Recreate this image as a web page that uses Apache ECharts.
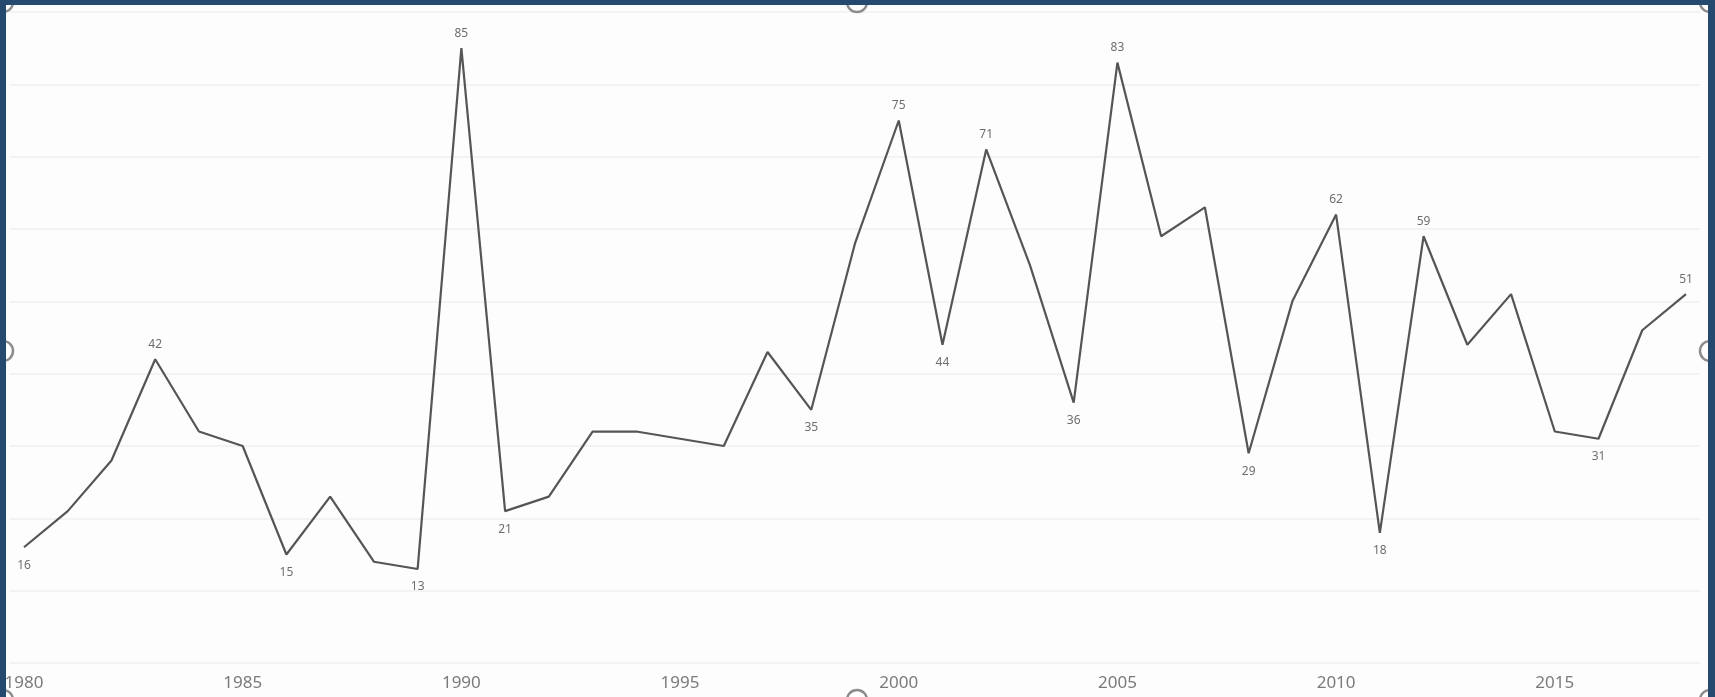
<!DOCTYPE html>
<html>
<head>
<meta charset="utf-8">
<script src="https://cdn.jsdelivr.net/npm/echarts@6/dist/echarts.min.js"></script>
<style>
  html, body { margin: 0; padding: 0; width: 1715px; height: 697px; overflow: hidden; background: #264a6f; }
  #chart { position: absolute; left: 6px; top: 5px; width: 1702px; height: 692px; background: #fdfdfd; }
</style>
</head>
<body>
<div id="chart"></div>
<script>
// Yearly values, 1980–2018
const years = [];
for (let y = 1980; y <= 2018; y++) years.push(String(y));

const values = [
  16, 21, 28, 42, 32, 30, 15, 23, 14, 13,   // 1980–1989
  85, 21, 23, 32, 32, 31, 30, 43, 35, 58,   // 1990–1999
  75, 44, 71, 55, 36, 83, 59, 63, 29, 50,   // 2000–2009
  62, 18, 59, 44, 51, 32, 31, 46, 51        // 2010–2018
];

// Years whose value is written next to the line
const labeledYears = [1980, 1983, 1986, 1989, 1990, 1991, 1998, 2000, 2001,
                      2002, 2004, 2005, 2008, 2010, 2011, 2012, 2016, 2018];

// y axis range and gridline step
const yMin = 0, yMax = 90, yStep = 10;

// Put a label above a local high and below a local low
function labelSide(i) {
  const v = values[i];
  const nb = [];
  if (i > 0) nb.push(values[i - 1]);
  if (i < values.length - 1) nb.push(values[i + 1]);
  const avg = nb.reduce((a, b) => a + b, 0) / nb.length;
  return v >= avg ? 'top' : 'bottom';
}

const seriesData = values.map((v, i) => {
  const shown = labeledYears.includes(Number(years[i]));
  const side = labelSide(i);
  return {
    value: v,
    label: { show: shown, position: side, distance: side === 'top' ? 9 : 12 }
  };
});

const chart = echarts.init(document.getElementById('chart'), null, { renderer: 'canvas' });

// Resize handles around the visual frame
const handleStyle = { fill: '#ffffff', stroke: '#8c8c8c', lineWidth: 2.5 };
const hx = [-3, 851, 1704], hy = [-3, 346, 695];
const handles = [];
hx.forEach((x, a) => hy.forEach((y, b) => {
  if (a === 1 && b === 1) return;
  handles.push({ type: 'circle', shape: { cx: x, cy: y, r: 10 }, style: handleStyle, z: 100 });
}));

chart.setOption({
  animation: false,
  textStyle: { fontFamily: 'Noto Sans' },
  grid: [
    { left: 18, right: 22, top: 7, bottom: 34, containLabel: false, outerBoundsMode: 'none' },
    { left: 4, right: 8, top: 7, bottom: 34, containLabel: false, outerBoundsMode: 'none' }
  ],
  xAxis: [
    {
      type: 'category', gridIndex: 0, data: years, boundaryGap: false,
      axisLine: { show: false }, axisTick: { show: false },
      axisLabel: { interval: 4, color: '#7a7a7a', fontSize: 17, margin: 12, fontFamily: 'Noto Sans' },
      splitLine: { show: false }
    },
    { type: 'value', gridIndex: 1, min: 0, max: 1, show: false }
  ],
  yAxis: [
    {
      type: 'value', gridIndex: 0, min: yMin, max: yMax, interval: yStep,
      axisLine: { show: false }, axisTick: { show: false }, axisLabel: { show: false },
      splitLine: { show: false }
    },
    {
      type: 'value', gridIndex: 1, min: yMin, max: yMax, interval: yStep,
      axisLine: { show: false }, axisTick: { show: false }, axisLabel: { show: false },
      splitLine: { show: true, lineStyle: { color: '#efefef', width: 1.5 } }
    }
  ],
  series: [{
    type: 'line',
    xAxisIndex: 0, yAxisIndex: 0,
    data: seriesData,
    showSymbol: true,
    symbol: 'circle',
    symbolSize: 0,
    lineStyle: { color: '#555555', width: 2.2 },
    itemStyle: { color: '#555555' },
    label: { color: '#6e6e6e', fontSize: 12, fontFamily: 'Noto Sans' },
    labelLayout: { hideOverlap: false },
    z: 5
  }],
  graphic: handles
});
</script>
</body>
</html>
